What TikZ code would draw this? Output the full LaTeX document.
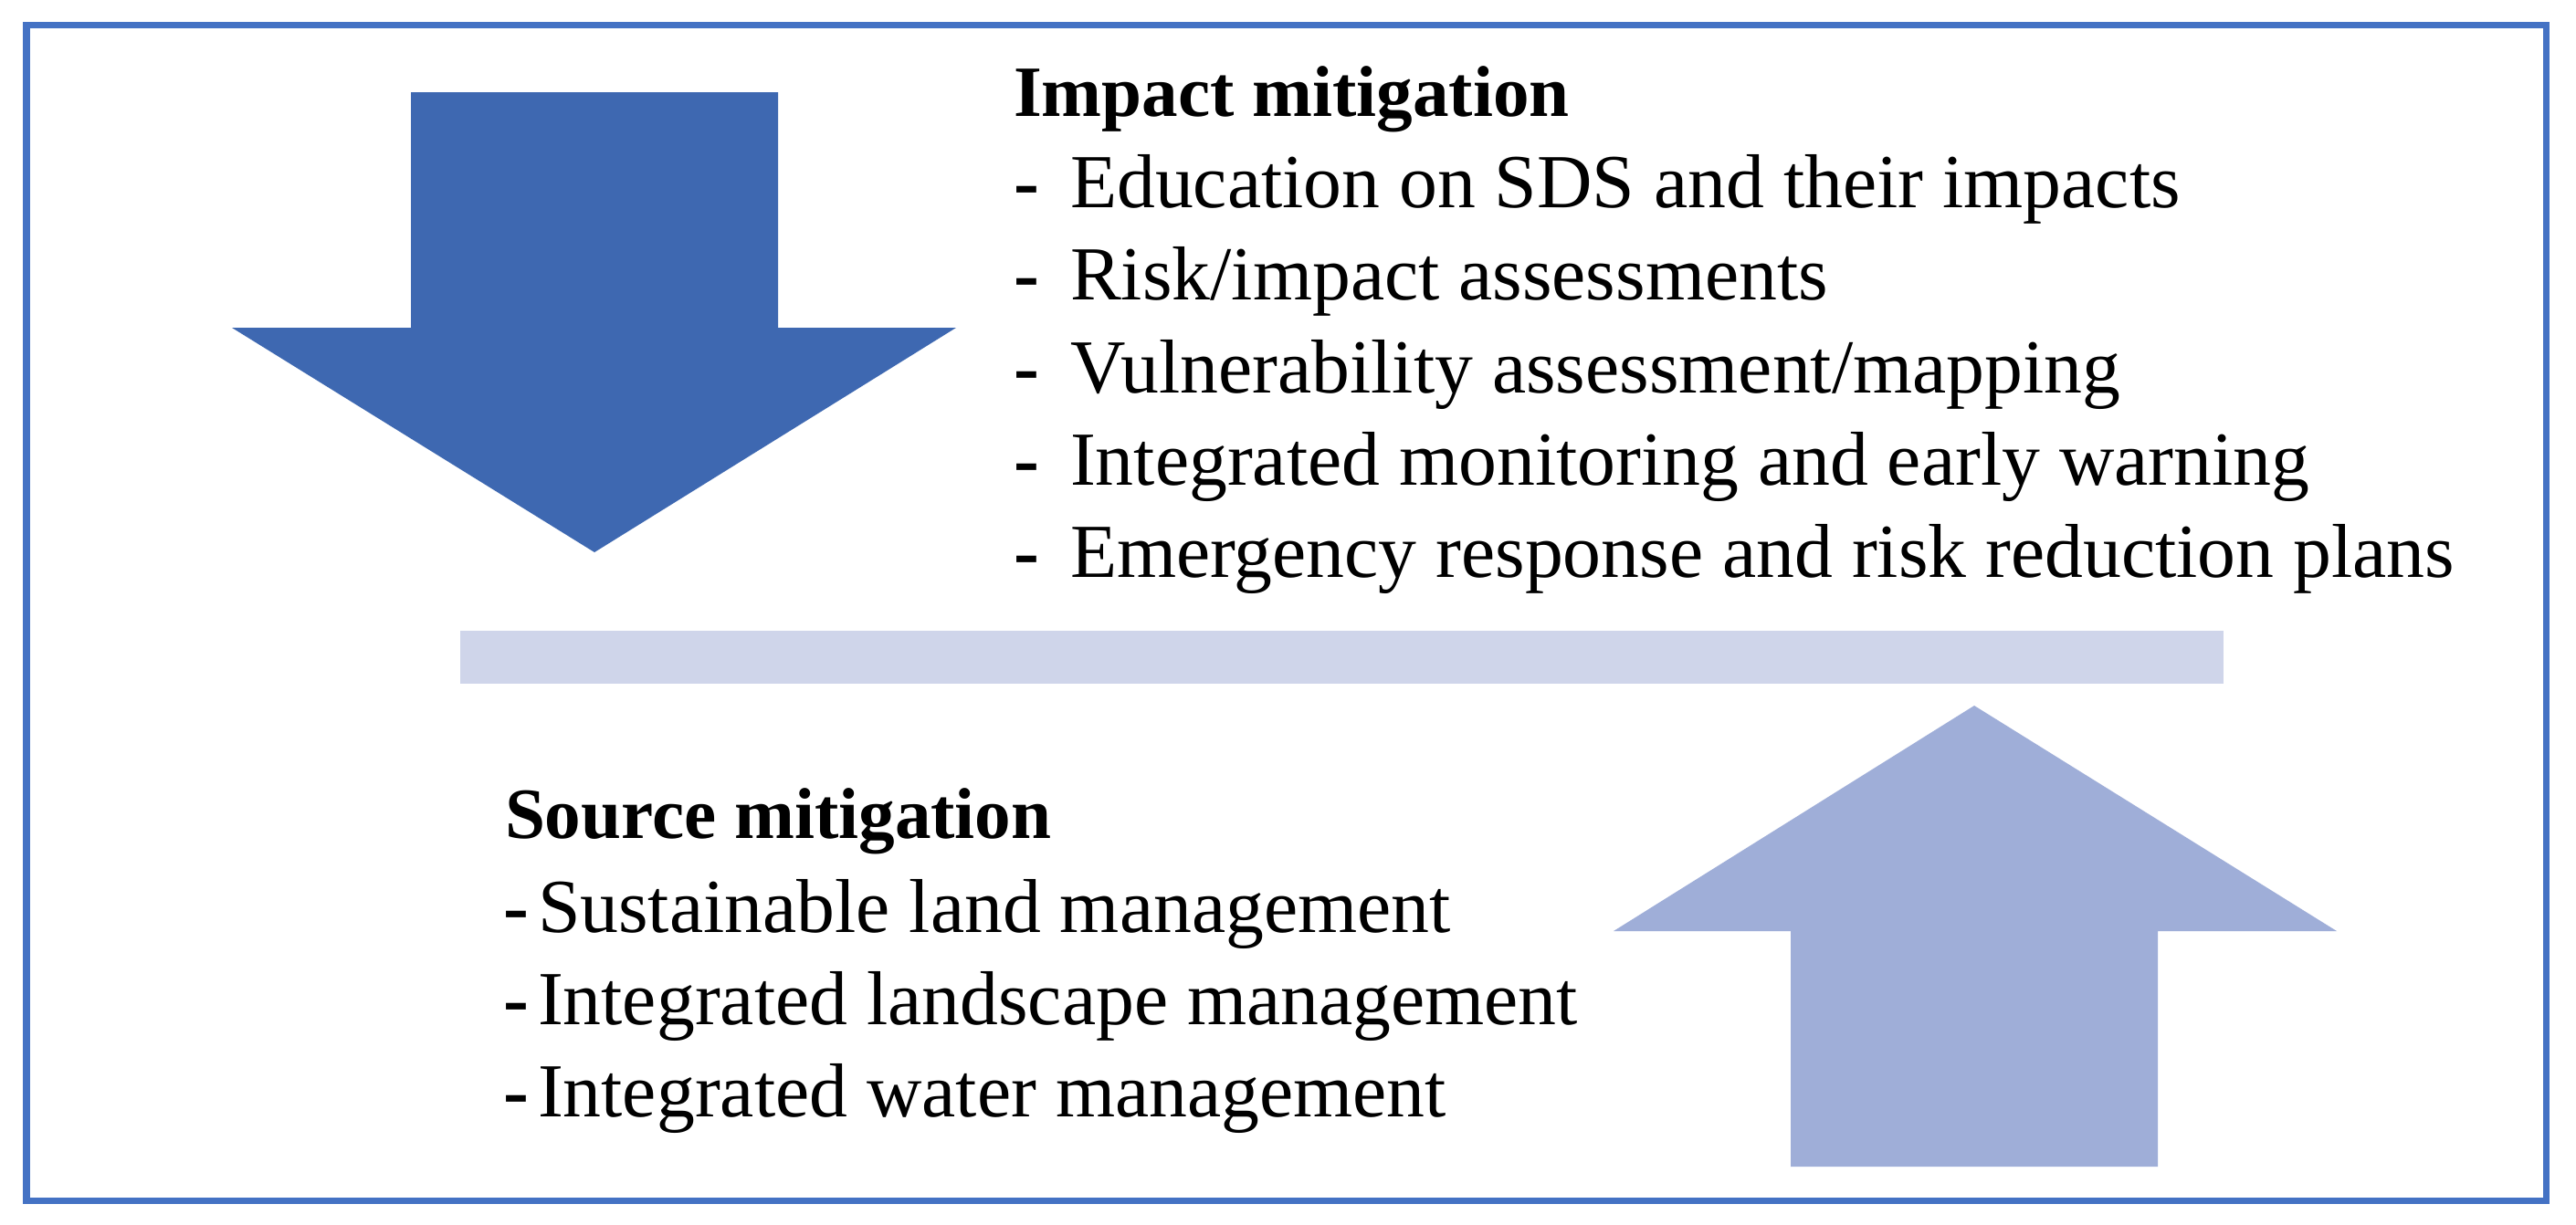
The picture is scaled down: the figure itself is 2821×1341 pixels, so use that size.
\documentclass[tikz,border=0pt]{standalone}
\usepackage{fontspec}
\setmainfont{Liberation Serif}
\definecolor{framec}{RGB}{68,114,196}
\definecolor{downc}{RGB}{62,104,177}
\definecolor{upc}{RGB}{159,174,216}
\definecolor{barc}{RGB}{207,213,234}
\begin{document}
\begin{tikzpicture}[x=0.01cm,y=-0.01cm,
  txt/.style={inner sep=0pt,outer sep=0pt,anchor=base west,font=\fontsize{23.8}{28}\selectfont},
  head/.style={txt,font=\fontsize{22.5}{28}\selectfont\bfseries},
  dashmark/.style={txt,font=\fontsize{23.8}{28}\selectfont\bfseries}]
\useasboundingbox (0,0) rectangle (2821,1341);
\fill[white] (0,0) rectangle (2821,1341);
% frame
\draw[framec,line width=0.07cm] (29,27) rectangle (2788,1315);
% down arrow
\fill[downc] (450,101) -- (852,101) -- (852,359) -- (1047,359) -- (651,605) -- (254,359) -- (450,359) -- cycle;
% bar
\fill[barc] (504,691) rectangle (2435,749);
% up arrow
\fill[upc] (1961,1278) -- (2363,1278) -- (2363,1020) -- (2559,1020) -- (2162,773) -- (1767,1020) -- (1961,1020) -- cycle;
% impact mitigation
\node[head] (ih) at (1110,127) {Impact mitigation};
\node[dashmark] (id1) at (1110,227) {-};
\node[txt] (i1) at (1172,227) {Education on SDS and their impacts};
\node[dashmark] (id2) at (1110,328) {-};
\node[txt] (i2) at (1172,328) {Risk/impact assessments};
\node[dashmark] (id3) at (1110,430) {-};
\node[txt] (i3) at (1172,430) {Vulnerability assessment/mapping};
\node[dashmark] (id4) at (1110,531) {-};
\node[txt] (i4) at (1172,531) {Integrated monitoring and early warning};
\node[dashmark] (id5) at (1110,632) {-};
\node[txt] (i5) at (1172,632) {Emergency response and risk reduction plans};
% source mitigation
\node[head] (sh) at (553,918) {Source mitigation};
\node[dashmark] (sd1) at (551,1021) {-};
\node[txt] (s1) at (589,1021) {Sustainable land management};
\node[dashmark] (sd2) at (551,1122) {-};
\node[txt] (s2) at (589,1122) {Integrated landscape management};
\node[dashmark] (sd3) at (551,1223) {-};
\node[txt] (s3) at (589,1223) {Integrated water management};
\end{tikzpicture}
\end{document}
